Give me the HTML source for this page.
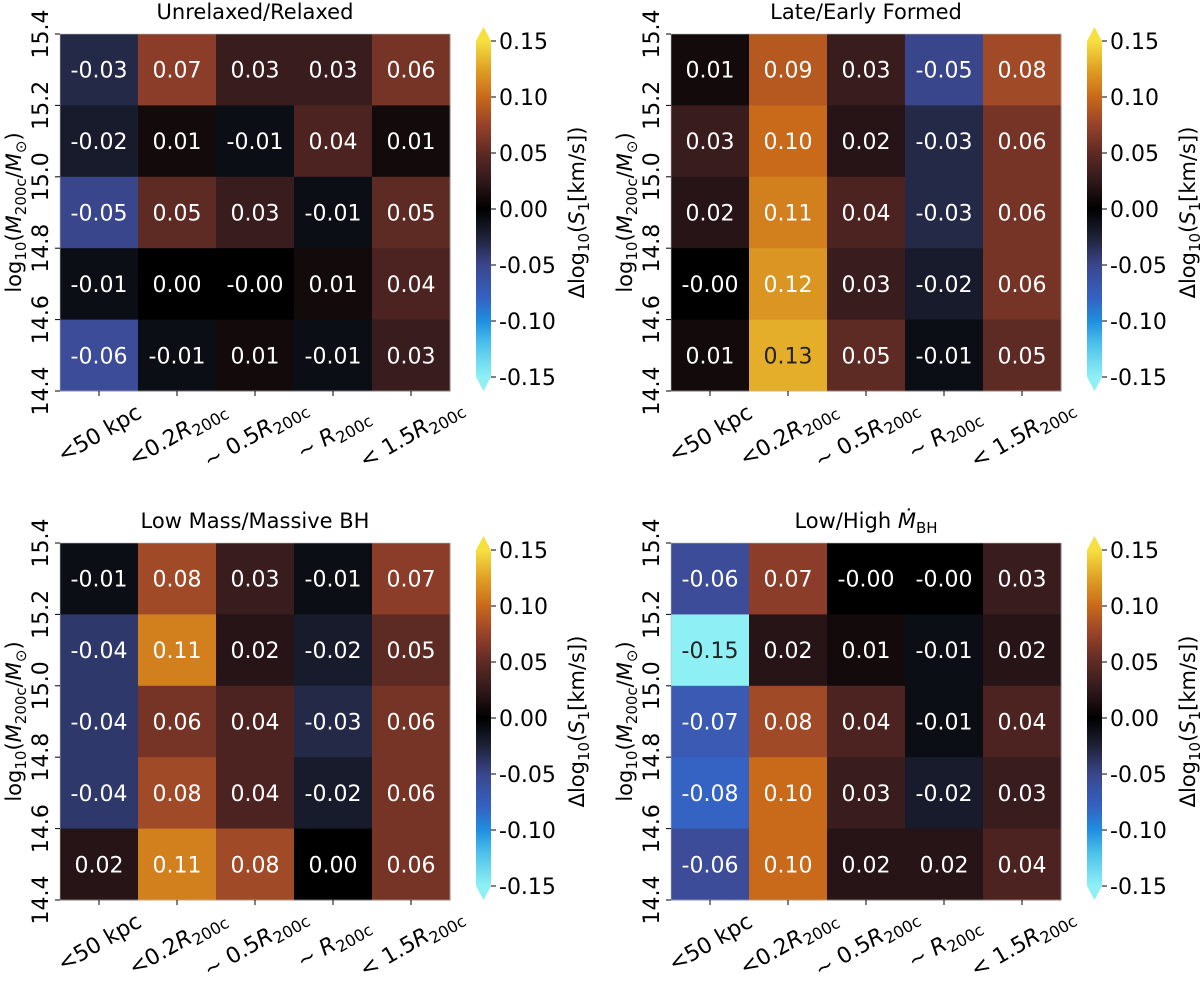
<!DOCTYPE html>
<html><head><meta charset="utf-8"><style>
html,body{margin:0;padding:0;background:#fff;}
svg{display:block;font-family:"DejaVu Sans","Liberation Sans",sans-serif;}
</style></head><body>
<svg id="fig" width="1200" height="982" viewBox="0 0 1200 982" xmlns="http://www.w3.org/2000/svg">
<defs>
<linearGradient id="cbgrad" x1="0" y1="1" x2="0" y2="0">
<stop offset="0" stop-color="#8ef0f5"/>
<stop offset="0.1" stop-color="#4cc0ea"/>
<stop offset="0.1667" stop-color="#1f8fdf"/>
<stop offset="0.2333" stop-color="#3463c4"/>
<stop offset="0.3333" stop-color="#3a468c"/>
<stop offset="0.4167" stop-color="#1e2236"/>
<stop offset="0.5" stop-color="#000000"/>
<stop offset="0.5833" stop-color="#30191b"/>
<stop offset="0.6667" stop-color="#5e2a24"/>
<stop offset="0.75" stop-color="#97422a"/>
<stop offset="0.8333" stop-color="#c9691a"/>
<stop offset="0.9167" stop-color="#e0a025"/>
<stop offset="1" stop-color="#f5e040"/>
</linearGradient>
</defs>
</svg>
<script>
const categories = ["<50 kpc","<0.2R200c","~0.5R200c","~R200c","<1.5R200c"];
const yTicks = [14.4,14.6,14.8,15.0,15.2,15.4];
const cbTicks = [-0.15,-0.10,-0.05,0.00,0.05,0.10,0.15];
const titles = ["Unrelaxed/Relaxed","Late/Early Formed","Low Mass/Massive BH","Low/High Mdot"];
// rows listed top (15.2-15.4) to bottom (14.4-14.6)
const panel1 = [[-0.03,0.07,0.03,0.03,0.06],[-0.02,0.01,-0.01,0.04,0.01],[-0.05,0.05,0.03,-0.01,0.05],[-0.01,0.00,-0.00,0.01,0.04],[-0.06,-0.01,0.01,-0.01,0.03]];
const panel2 = [[0.01,0.09,0.03,-0.05,0.08],[0.03,0.10,0.02,-0.03,0.06],[0.02,0.11,0.04,-0.03,0.06],[-0.00,0.12,0.03,-0.02,0.06],[0.01,0.13,0.05,-0.01,0.05]];
const panel3 = [[-0.01,0.08,0.03,-0.01,0.07],[-0.04,0.11,0.02,-0.02,0.05],[-0.04,0.06,0.04,-0.03,0.06],[-0.04,0.08,0.04,-0.02,0.06],[0.02,0.11,0.08,0.00,0.06]];
const panel4 = [[-0.06,0.07,-0.00,-0.00,0.03],[-0.15,0.02,0.01,-0.01,0.02],[-0.07,0.08,0.04,-0.01,0.04],[-0.08,0.10,0.03,-0.02,0.03],[-0.06,0.10,0.02,0.02,0.04]];
const panels = [panel1,panel2,panel3,panel4];
const vmin=-0.15, vmax=0.15;

const NS="http://www.w3.org/2000/svg";
const svg=document.getElementById('fig');
function mk(tag,attrs,parent){const e=document.createElementNS(NS,tag);for(const k in attrs)e.setAttribute(k,attrs[k]);(parent||svg).appendChild(e);return e;}

const cstops=[[-0.15,[142,240,245]],[-0.12,[76,192,234]],[-0.10,[31,143,223]],[-0.08,[52,99,196]],[-0.07,[58,90,180]],[-0.06,[61,76,152]],[-0.05,[58,70,140]],[-0.025,[30,34,54]],[0,[0,0,0]],[0.025,[48,25,27]],[0.05,[94,42,36]],[0.075,[151,66,42]],[0.10,[201,105,26]],[0.125,[224,160,37]],[0.15,[245,224,64]]];
function color(v){v=Math.max(vmin,Math.min(vmax,v));for(let i=0;i<cstops.length-1;i++){const a=cstops[i],b=cstops[i+1];if(v<=b[0]){const t=(v-a[0])/(b[0]-a[0]);const c=a[1].map((x,j)=>Math.round(x+(b[1][j]-x)*t));return `rgb(${c.join(',')})`;}}return 'rgb(245,224,64)';}
function fmt(v){const neg=v<0||Object.is(v,-0);return (neg?'-':'')+Math.abs(v).toFixed(2);}

const W=390,H=357;
const offsets=[[0,0],[611,0],[0,509],[611,509]];
function addCat(t,label){
  const m=label.match(/^(.*?)(R)(200c)$/);
  if(!m){t.textContent=label;return;}
  let pre=m[1].replace('~','\u223C ').replace(/^<1\.5/,'< 1.5');
  const a=document.createElementNS(NS,'tspan');a.textContent=pre;t.appendChild(a);
  const r=document.createElementNS(NS,'tspan');r.setAttribute('font-style','italic');r.textContent='R';t.appendChild(r);
  const s=document.createElementNS(NS,'tspan');s.setAttribute('font-size','16');s.setAttribute('dy','5');s.textContent='200c';t.appendChild(s);
}

panels.forEach((data,p)=>{
  const [ox,oy]=offsets[p];
  const L=60+ox,T=34+oy;
  const g=mk('g',{});
  
  
  const nR=data.length,nC=categories.length;
  const cw=W/nC,ch=H/nR;
  const xs=i=>L+i*cw, ys=j=>T+j*ch;
  const yScale=v=>T+H-(v-yTicks[0])/(yTicks[yTicks.length-1]-yTicks[0])*H;
  data.forEach((row,j)=>row.forEach((v,i)=>{
    const r=mk('rect',{x:xs(i),y:ys(j),width:cw+0.5,height:ch+0.5,fill:color(v)},g);
    
    
    const t=mk('text',{x:xs(i)+cw/2,y:ys(j)+ch/2+8,'text-anchor':'middle','font-size':'22',fill:Math.abs(v)>=0.125?'#222':'#fff'},g);
    
    
    t.textContent=fmt(v);
  }));
  mk('rect',{x:L,y:T,width:W,height:H,fill:'none',stroke:'#bbb','stroke-width':'0.6'},g);
  const tt=mk('text',{x:L+W/2,y:T-15,'text-anchor':'middle','font-size':'21',fill:'#000'},g);
  
  
  if(p===3){tt.textContent='Low/High ';const m=document.createElementNS(NS,'tspan');m.setAttribute('font-style','italic');m.textContent='M\u0307';tt.appendChild(m);const s=document.createElementNS(NS,'tspan');s.setAttribute('font-size','15');s.setAttribute('dy','5');s.textContent='BH';tt.appendChild(s);}
  else tt.textContent=titles[p];
  yTicks.forEach(v=>{
    const y=yScale(v);
    mk('line',{x1:L-5,x2:L,y1:y,y2:y,stroke:'#000','stroke-width':'1'},g);
    const t=mk('text',{x:0,y:0,'text-anchor':'middle','font-size':'22',transform:`translate(${L-12},${y}) rotate(-90)`},g);
    
    
    t.textContent=v.toFixed(1);
  });
  const yl=mk('text',{x:0,y:0,'text-anchor':'middle','font-size':'21',transform:`translate(${L-39},${T+H/2}) rotate(-90)`},g);
  
  
  yl.innerHTML='log<tspan font-size="15" dy="5">10</tspan><tspan dy="-5">(</tspan><tspan font-style="italic">M</tspan><tspan font-size="15" dy="5">200c</tspan><tspan dy="-5">/</tspan><tspan font-style="italic">M</tspan><tspan font-size="15" dy="5">\u2299</tspan><tspan dy="-5">)</tspan>';
  categories.forEach((c,i)=>{
    const x=xs(i)+cw/2;
    mk('line',{x1:x,x2:x,y1:T+H,y2:T+H+5,stroke:'#000','stroke-width':'1'},g);
    const t=mk('text',{x:0,y:8,'text-anchor':'middle','font-size':'22',transform:`translate(${x},${T+H+42}) rotate(-30)`},g);
    
    
    addCat(t,c);
  });
  const cx=L+416,cwid=15,cTop=T+7,cBot=T+343;
  const cb=mk('g',{},g);
  
  
  mk('rect',{x:cx,y:cTop,width:cwid,height:cBot-cTop,fill:'url(#cbgrad)'},cb);
  mk('polygon',{points:`${cx},${cTop} ${cx+cwid},${cTop} ${cx+cwid/2},${cTop-14}`,fill:'#f5e040'},cb);
  mk('polygon',{points:`${cx},${cBot} ${cx+cwid},${cBot} ${cx+cwid/2},${cBot+14}`,fill:'#8ef0f5'},cb);
  const cScale=v=>cBot-(v-vmin)/(vmax-vmin)*(cBot-cTop);
  cbTicks.forEach(v=>{
    const y=cScale(v);
    mk('line',{x1:cx+cwid,x2:cx+cwid+5,y1:y,y2:y,stroke:'#000','stroke-width':'1'},cb);
    const t=mk('text',{x:cx+cwid+8,y:y+8,'font-size':'22'},cb);
    
    
    t.textContent=fmt(v);
  });
  const cl=mk('text',{x:0,y:0,'text-anchor':'middle','font-size':'21',transform:`translate(${L+524},${T+H/2}) rotate(-90)`},cb);
  
  
  cl.innerHTML='\u0394log<tspan font-size="15" dy="5">10</tspan><tspan dy="-5">(</tspan><tspan font-style="italic">S</tspan><tspan font-size="15" dy="5">1</tspan><tspan dy="-5">[km/s])</tspan>';
});
</script>
</body></html>
